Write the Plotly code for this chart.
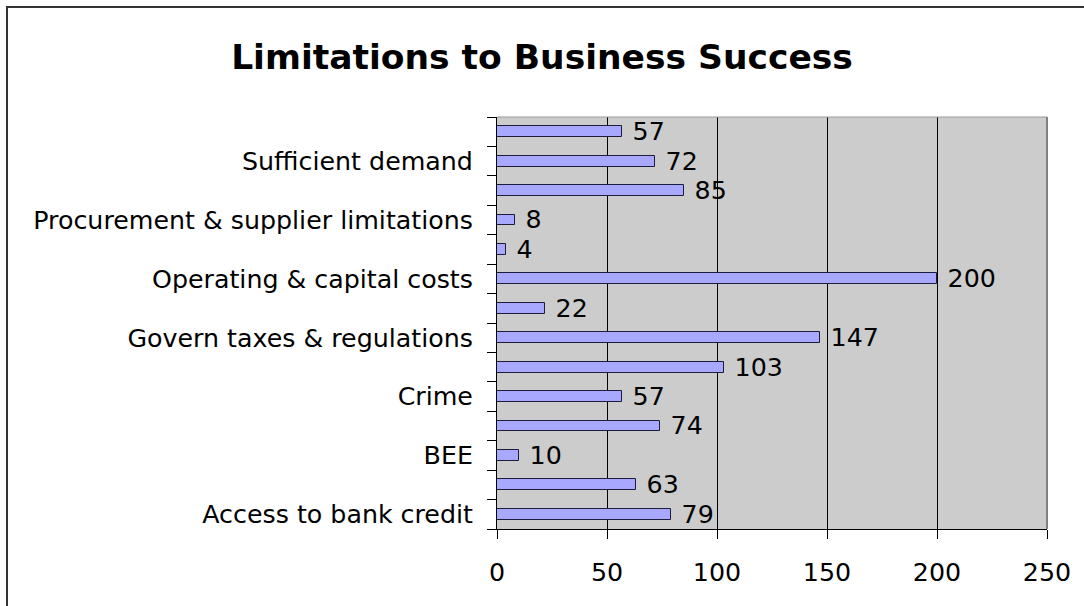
import plotly.graph_objects as go

# Categories listed bottom to top; only every other category carries a visible label
labels = [
    "Access to bank credit", "", "BEE", "", "Crime", "",
    "Govern taxes & regulations", "", "Operating & capital costs", "",
    "Procurement & supplier limitations", "", "Sufficient demand", "",
]
values = [79, 63, 10, 74, 57, 103, 147, 22, 200, 4, 8, 85, 72, 57]
x_ticks = [0, 50, 100, 150, 200, 250]
title_text = "Limitations to Business Success"

positions = list(range(len(values)))
label_pos = [p for p, lab in zip(positions, labels) if lab]
label_txt = [lab for lab in labels if lab]
boundaries = [p - 0.5 for p in positions] + [positions[-1] + 0.5]

FONT = "DejaVu Sans"
FS = 25.3
W, H = 1084, 606
L, R, T, B = 497, 1047, 117, 529

fig = go.Figure()
fig.add_trace(go.Bar(
    x=values, y=positions, orientation="h", width=0.37,
    marker=dict(color="#A8A8FF", line=dict(color="#1c1c3c", width=1)),
    text=values, texttemplate=" %{x}", textposition="outside",
    constraintext="none", cliponaxis=False,
    textfont=dict(family=FONT, size=FS, color="#000000"),
    hoverinfo="skip",
))
# invisible trace that carries the boundary tick marks on the overlay axis
fig.add_trace(go.Scatter(x=[None], y=[None], yaxis="y2", showlegend=False))

yr = [-0.5, len(values) - 0.5]
fig.update_layout(
    width=W, height=H,
    margin=dict(l=L, r=W - R, t=T, b=H - B, pad=0, autoexpand=False),
    paper_bgcolor="#FFFFFF", plot_bgcolor="#CCCCCC",
    showlegend=False, bargap=0,
    font=dict(family=FONT, size=FS, color="#000000"),
    title=dict(text=title_text, x=0.5, xanchor="center", y=1 - 57 / H,
               yanchor="middle", automargin=False,
               font=dict(family=FONT, size=34.5, color="#000000", weight="bold")),
    xaxis=dict(range=[0, 250], tickvals=x_ticks, ticks="outside", ticklen=9,
               tickcolor="#000000", showline=True, linecolor="#000000",
               linewidth=1, showgrid=True, gridcolor="#000000", gridwidth=1,
               zeroline=False, ticklabelstandoff=12, automargin=False,
               tickfont=dict(family=FONT, size=FS)),
    yaxis=dict(range=yr, tickvals=label_pos, ticktext=label_txt, ticks="",
               showline=True, linecolor="#000000", linewidth=1,
               showgrid=False, zeroline=False, ticklabelstandoff=18,
               automargin=False, tickfont=dict(family=FONT, size=FS)),
    yaxis2=dict(range=yr, overlaying="y", side="left", tickvals=boundaries,
                showticklabels=False, ticks="outside", ticklen=9,
                tickcolor="#000000", showline=False, showgrid=False,
                zeroline=False, automargin=False),
)

# plot-area border on the top and right edges
fig.add_shape(type="line", xref="paper", yref="paper", x0=0, x1=1, y0=1, y1=1,
              line=dict(color="#9a9a9a", width=1), layer="above")
fig.add_shape(type="line", xref="paper", yref="paper", x0=1, x1=1, y0=0, y1=1,
              line=dict(color="#808080", width=2), layer="above")

# chart frame, running off the right and bottom of the page
fx0 = (7 - L) / (R - L)
fx1 = (W + 20 - L) / (R - L)
fy0 = (B - 7) / (B - T)
fy1 = (B - H - 20) / (B - T)
fig.add_shape(type="rect", xref="paper", yref="paper",
              x0=fx0, x1=fx1, y0=fy1, y1=fy0,
              line=dict(color="#333333", width=2), layer="above")

fig.write_html("out.html")
